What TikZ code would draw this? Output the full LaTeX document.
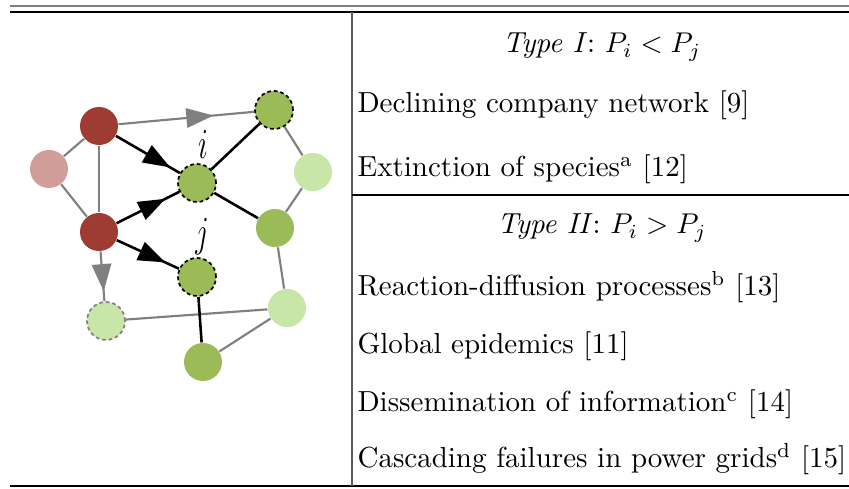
\documentclass[tikz,border=0pt]{standalone}
\definecolor{spreadred}{RGB}{158,59,51}
\definecolor{spreadpink}{RGB}{208,157,153}
\definecolor{spreadgreen}{RGB}{155,187,89}
\definecolor{spreadlight}{RGB}{200,230,168}
\definecolor{linkgray}{RGB}{128,128,128}
\usepackage{tikz}
\usetikzlibrary{arrows.meta,decorations.markings}

\begin{document}
\begin{tikzpicture}[x=0.35pt,y=-0.35pt,
    vert/.style={circle,inner sep=0pt,minimum size=13.3pt},
    seedvert/.style={vert,draw=black,line width=0.6pt,dash pattern=on 1.3pt off 1pt},
    graylink/.style={linkgray,line width=0.75pt},
    blacklink/.style={black,line width=0.9pt},
    midarrow/.style={postaction={decorate},decoration={markings,
        mark=at position #1 with {\arrow{Triangle[length=9.5pt,width=6.8pt]}}}},
    celltext/.style={inner sep=0pt,font=\fontsize{10.15}{12.2}\selectfont},
    rowtext/.style={celltext,anchor=base west}]
  \useasboundingbox (0,0) rectangle (849,489);

  % table rules
  \draw[linkgray,line width=0.7pt] (10,6) -- (849,6);
  \draw[line width=0.45pt] (10,12) -- (849,12);
  \draw[line width=0.45pt] (10,486) -- (849,486);
  \draw[linkgray!70!black,line width=0.45pt] (352,12) -- (352,486);
  \draw[line width=0.45pt] (352,195) -- (849,195);

  % network
  \node[vert,fill=spreadred] (redtop) at (99,126) {};
  \node[vert,fill=spreadpink] (pink) at (49,169) {};
  \node[vert,fill=spreadred] (redbot) at (99,232) {};
  \node[seedvert,fill=spreadgreen] (vi) at (197,183) {};
  \node[seedvert,fill=spreadgreen] (vtop) at (274,110) {};
  \node[vert,fill=spreadlight] (vright) at (313,172) {};
  \node[vert,fill=spreadgreen] (vmid) at (275,228) {};
  \node[seedvert,fill=spreadgreen] (vj) at (197,277) {};
  \node[vert,fill=spreadlight,draw=linkgray,line width=0.6pt,dash pattern=on 1.3pt off 1pt] (vdash) at (106,321) {};
  \node[vert,fill=spreadlight] (vlow) at (287,308) {};
  \node[vert,fill=spreadgreen] (vbot) at (203,362) {};

  \draw[graylink] (redtop) -- (pink);
  \draw[graylink] (pink) -- (redbot);
  \draw[graylink] (redtop) -- (redbot);
  \draw[graylink] (vtop) -- (vright);
  \draw[graylink] (vright) -- (vmid);
  \draw[graylink] (vmid) -- (vlow);
  \draw[graylink] (vlow) -- (vdash);
  \draw[graylink] (vlow) -- (vbot);
  \draw[blacklink] (vi) -- (vtop);
  \draw[blacklink] (vi) -- (vmid);
  \draw[blacklink] (vj) -- (vbot);

  % directed links
  \draw[graylink,midarrow=0.7] (redtop) -- (vtop);
  \draw[graylink,midarrow=0.8] (redbot) -- (vdash);
  \draw[blacklink,midarrow=0.85] (redtop) -- (vi);
  \draw[blacklink,midarrow=0.78] (redbot) -- (vi);
  \draw[blacklink,midarrow=0.78] (redbot) -- (vj);

  \node (labi) at (203,144) {\scalebox{0.85}[1.25]{\large$i$}};
  \node (labj) at (202,237) {\scalebox{0.85}[1.25]{\large$j$}};

  % table text
  \node[celltext,anchor=base] (typeone) at (602,53) {\textit{Type I}: $P_i < P_j$};
  \node[rowtext] (rowa) at (357,113) {Declining company network [9]};
  \node[rowtext] (rowb) at (357,177) {Extinction of species\textsuperscript{a} [12]};
  \node[celltext,anchor=base] (typetwo) at (602,234) {\textit{Type II}: $P_i > P_j$};
  \node[rowtext] (rowc) at (357,296) {Reaction-diffusion processes\textsuperscript{b} [13]};
  \node[rowtext] (rowd) at (357,354) {Global epidemics [11]};
  \node[rowtext] (rowe) at (357,412) {Dissemination of information\textsuperscript{c} [14]};
  \node[rowtext] (rowf) at (357,468) {Cascading failures in power grids\textsuperscript{d} [15]};
\end{tikzpicture}
\end{document}
